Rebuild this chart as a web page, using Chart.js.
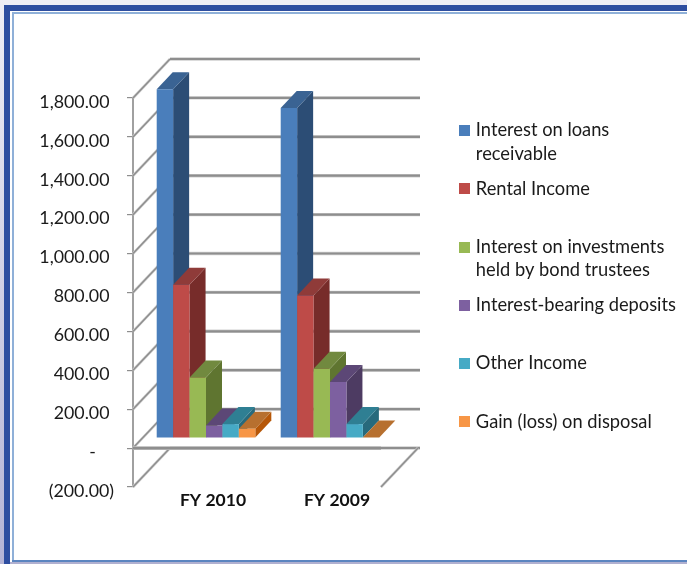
<!DOCTYPE html>
<html><head><meta charset="utf-8">
<style>
html,body{margin:0;padding:0;background:#fff;width:687px;height:564px;overflow:hidden}
.f{position:absolute}
canvas{position:absolute;left:0;top:0}
</style>
<script src="https://cdn.jsdelivr.net/npm/chart.js@4"></script>
</head><body>
<div class="f" style="left:0;top:0;width:687px;height:5px;background:#efeef5"></div>
<div class="f" style="left:0;top:0;width:4px;height:564px;background:linear-gradient(#efeef5,#b4b4d6)"></div>
<div class="f" style="left:4px;top:5px;width:683px;height:6px;background:#2e4ea0"></div>
<div class="f" style="left:4px;top:5px;width:6px;height:559px;background:#2e4ea0"></div>
<div class="f" style="left:12px;top:12px;width:675px;height:2px;background:#8fb0d8"></div>
<div class="f" style="left:12px;top:12px;width:2px;height:549px;background:#8fb0d8"></div>
<div class="f" style="left:12px;top:560px;width:675px;height:2px;background:#5b85c0"></div>
<div class="f" style="left:10px;top:562px;width:677px;height:2px;background:#b0b0d0"></div>
<canvas id="c" width="687" height="564"></canvas>
<script>
const categories = ['FY 2010', 'FY 2009'];
const seriesNames = [
  ['Interest on loans', 'receivable'],
  ['Rental Income', ''],
  ['Interest on investments', 'held by bond trustees'],
  ['Interest-bearing deposits', ''],
  ['Other Income', ''],
  ['Gain (loss) on disposal', '']
];
const loansReceivable = [1794, 1697];
const rentalIncome = [788, 733];
const bondTrustees = [311, 356];
const bearingDeposits = [65, 288];
const otherIncome = [72, 72];
const gainLoss = [48, 3];
const seriesValues = [loansReceivable, rentalIncome, bondTrustees, bearingDeposits, otherIncome, gainLoss];

const frontColors = ['#4a7ebb', '#be4b48', '#98b954', '#7d60a0', '#46aac5', '#f79646'];
const sideColors = ['#2c4d75', '#772c2a', '#5f7530', '#4d3b62', '#276a7c', '#b65708'];
const topColors = ['#3a6393', '#8f3b39', '#71893f', '#5c4776', '#2f7f93', '#b7702f'];

const WALL_DX = 37, WALL_DY = 39, WALL_EXTRA = 2;
const BAR_SHIFT_X = 11, BAR_SHIFT_Y = -10, BAR_DX = 16, BAR_DY = 17;
const FONT = 'Lato, Carlito, Calibri, sans-serif';
const SWATCH = 11;

const swatches = frontColors.map(col => {
  const cv = document.createElement('canvas');
  cv.width = SWATCH; cv.height = SWATCH;
  const g = cv.getContext('2d');
  g.fillStyle = col; g.fillRect(0, 0, SWATCH, SWATCH);
  return cv;
});

function line(ctx, x1, y1, x2, y2) {
  ctx.beginPath(); ctx.moveTo(x1, y1); ctx.lineTo(x2, y2); ctx.stroke();
}
function softLine(ctx, x1, y1, x2, y2, w) {
  ctx.strokeStyle = '#cfcfcf'; ctx.lineWidth = w + 1.2; line(ctx, x1, y1, x2, y2);
  ctx.strokeStyle = '#8e8e8e'; ctx.lineWidth = w; line(ctx, x1, y1, x2, y2);
}
function poly(ctx, pts, fill) {
  ctx.fillStyle = fill; ctx.beginPath();
  pts.forEach((p, i) => i ? ctx.lineTo(p[0], p[1]) : ctx.moveTo(p[0], p[1]));
  ctx.closePath(); ctx.fill();
}
const depthPlugin = {
  id: 'depth',
  afterLayout(chart) {
    const l = chart.legend;
    l.left = 450.9; l.right = 687; l.top = 110; l.bottom = 444;
  },
  beforeDatasetsDraw(chart) {
    const ctx = chart.ctx, y = chart.scales.y, area = chart.chartArea;
    ctx.save();
    // back wall and left wall lines follow the value scale
    y.ticks.forEach(t => {
      const py = y.getPixelForValue(t.value);
      softLine(ctx, area.left, py, area.left + WALL_DX, py - WALL_DY, 1.5);
      softLine(ctx, area.left + WALL_DX, py - WALL_DY, area.right + WALL_DX + WALL_EXTRA, py - WALL_DY, 2.2);
    });
    const floorY = y.getPixelForValue(y.min);
    softLine(ctx, area.right, floorY, area.right + WALL_DX, floorY - WALL_DY, 1.5);
    const zeroY = y.getPixelForValue(0);
    softLine(ctx, area.left, zeroY, area.right, zeroY, 2.6);
    // bars with depth, drawn left to right so each front covers its neighbour's side
    ctx.translate(BAR_SHIFT_X, BAR_SHIFT_Y);
    for (let c = 0; c < categories.length; c++) {
      for (let s = 0; s < seriesValues.length; s++) {
        const bar = chart.getDatasetMeta(s).data[c];
        const l = bar.x - bar.width / 2, r = bar.x + bar.width / 2, t = bar.y, b = bar.base;
        poly(ctx, [[r, t], [r + BAR_DX, t - BAR_DY], [r + BAR_DX, b - BAR_DY], [r, b]], sideColors[s]);
        poly(ctx, [[l, t], [r, t], [r + BAR_DX, t - BAR_DY], [l + BAR_DX, t - BAR_DY]], topColors[s]);
        bar.draw(ctx);
      }
    }
    ctx.restore();
    return false;
  }
};

new Chart(document.getElementById('c'), {
  type: 'bar',
  plugins: [depthPlugin],
  data: {
    labels: categories,
    datasets: seriesValues.map((values, i) => ({
      label: seriesNames[i],
      data: values,
      backgroundColor: frontColors[i],
      borderWidth: 0,
      categoryPercentage: 0.795,
      barPercentage: 1
    }))
  },
  options: {
    responsive: false,
    animation: false,
    devicePixelRatio: 1,
    layout: { padding: { left: 0, top: 98, bottom: 47, right: 179 } },
    plugins: {
      title: { display: false },
      tooltip: { enabled: false },
      legend: {
        position: 'right',
        align: 'start',
        labels: {
          usePointStyle: true,
          boxWidth: 4.4, boxHeight: 10, padding: 11.4, color: '#1a1a1a',
          font: { family: FONT, size: 18.3, lineHeight: 1.28 },
          generateLabels(chart) {
            const items = Chart.defaults.plugins.legend.labels.generateLabels(chart);
            items.forEach((it, i) => { it.pointStyle = swatches[i]; });
            return items;
          }
        }
      }
    },
    scales: {
      x: {
        grid: { display: false },
        border: { display: false },
        afterFit(s) { s.height = 30; },
        ticks: { color: '#111', padding: -5, maxRotation: 0, labelOffset: 18, font: { family: FONT, size: 17.5, weight: 'bold' } }
      },
      y: {
        min: -200, max: 1800,
        afterFit(s) { s.width = 133; },
        grid: { drawOnChartArea: false, tickLength: 6, color: '#8e8e8e', lineWidth: 1.2 },
        border: { color: '#a0a0a0', width: 2 },
        ticks: {
          stepSize: 200, padding: 13, color: '#1a1a1a', labelOffset: 4,
          font: { family: FONT, size: 17.8 },
          callback(v) {
            if (v === 0) return '-    ';
            if (v < 0) return '(' + Math.abs(v).toFixed(2) + ')';
            return v.toLocaleString('en-US', { minimumFractionDigits: 2, maximumFractionDigits: 2 }) + ' ';
          }
        }
      }
    }
  }
});
</script>
</body></html>
